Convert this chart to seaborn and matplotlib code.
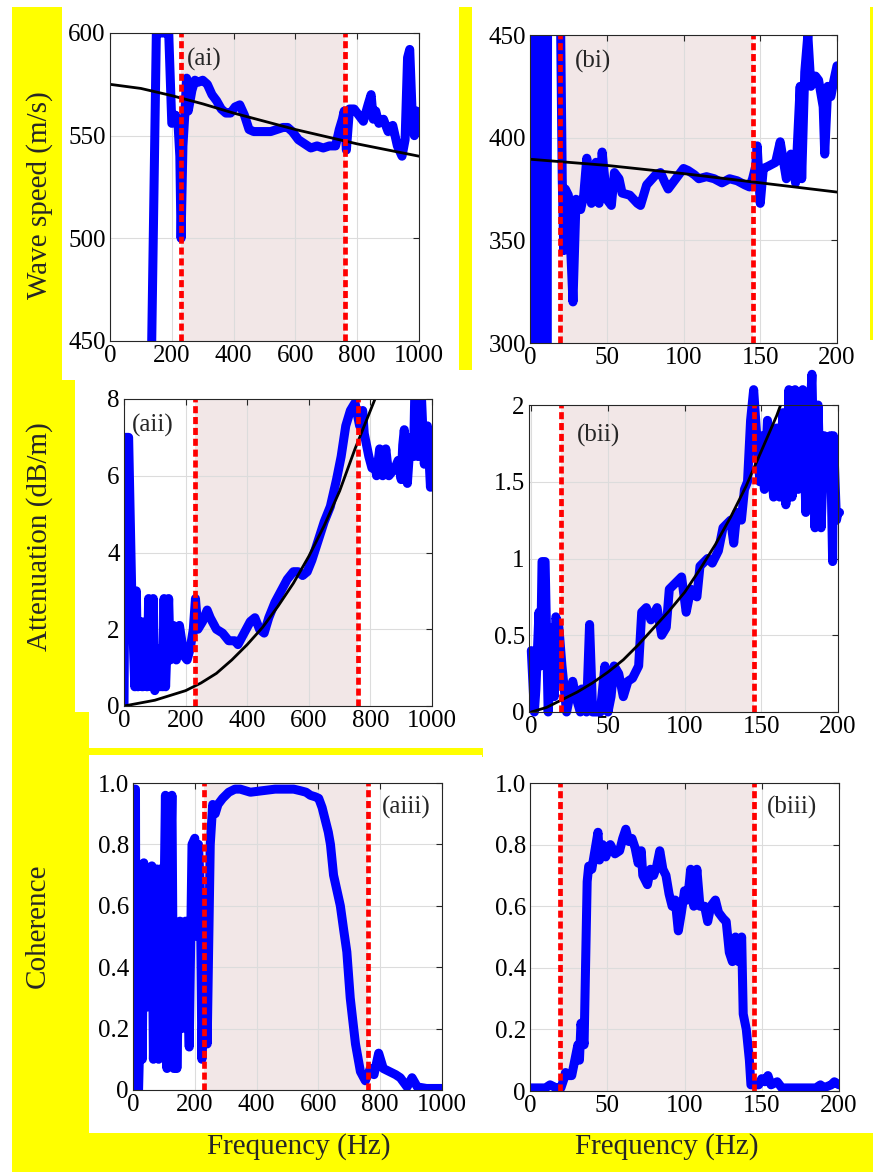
import numpy as np
import pandas as pd
import matplotlib
matplotlib.use("Agg")
import matplotlib.pyplot as plt
import seaborn as sns
from matplotlib.patches import Rectangle

# ---- data ----
# (ai) wave speed, band a
ai_f = [135, 150, 160, 175, 190, 200, 205, 212, 220, 226, 230, 236, 242, 248, 253, 258, 265, 275,
        285, 300, 315, 330, 345, 360, 375, 390, 405, 420, 435, 450, 465, 480, 500, 520, 540, 560,
        575, 590, 610, 630, 650, 670, 690, 710, 730, 742, 752, 758, 765, 775, 790, 805, 820, 835,
        845, 852, 860, 870, 885, 900, 915, 930, 945, 955, 963, 970, 978, 985, 992, 1000]
ai_v = [450, 600, 600, 600, 600, 556, 557, 560, 556, 540, 500, 545, 560, 578, 562, 566, 572, 577,
        576, 577, 575, 570, 567, 563, 561, 561, 564, 565, 560, 553, 552, 552, 552, 552, 553, 554,
        554, 552, 548, 546, 544, 545, 544, 545, 545, 553, 558, 562, 543, 563, 563, 560, 557, 565,
        570, 558, 562, 556, 558, 552, 555, 545, 540, 548, 588, 592, 560, 550, 562, 560]
ai_fit_f = [0, 100, 200, 300, 400, 500, 600, 700, 800, 900, 1000]
ai_fit_v = [575, 573, 569.5, 565.5, 561, 557, 553, 549.5, 546, 543, 540]

# (bi) wave speed, band b
bi_f = [0.5, 1, 1.5, 2, 2.5, 3, 3.5, 4, 4.5, 5, 5.5, 6, 6.5, 7, 7.5, 8, 8.5, 9, 9.5, 10, 10.5, 11,
        11.5, 19, 20, 21, 22, 23, 25, 28, 30, 33, 35, 37, 40, 43, 45, 47, 50, 53, 55, 58, 60, 65,
        70, 72, 76, 82, 85, 88, 90, 95, 100, 103, 107, 110, 115, 120, 125, 130, 135, 140, 143, 145,
        147, 148, 150, 152, 155, 160, 163, 167, 170, 173, 176, 177, 179, 181, 183, 186, 188, 191,
        192, 194, 196, 198, 200]
bi_v = [480, 270, 480, 270, 480, 270, 480, 270, 480, 270, 480, 270, 480, 270, 480, 270, 480, 270,
        480, 270, 480, 270, 480, 480, 450, 380, 345, 375, 372, 320, 370, 365, 372, 390, 368, 388,
        368, 393, 370, 367, 383, 380, 373, 372, 368, 367, 377, 382, 383, 378, 375, 380, 385, 384,
        382, 380, 381, 380, 378, 380, 379, 377, 376, 380, 386, 396, 368, 385, 386, 388, 398, 380,
        392, 378, 425, 380, 432, 450, 425, 430, 428, 415, 392, 425, 420, 428, 435]
bi_fit_f = [0, 50, 100, 150, 200]
bi_fit_v = [389.5, 386.5, 382.5, 378, 373.5]

# (aii) attenuation, band a
aii_f = [0, 5, 15, 25, 35, 40, 45, 55, 60, 70, 75, 80, 90, 95, 100, 105, 115, 120, 125, 130, 135,
         145, 150, 160, 170, 180, 195, 205, 215, 225, 232, 240, 255, 270, 280, 300, 320, 340, 360,
         370, 390, 410, 425, 440, 455, 470, 490, 510, 530, 550, 565, 580, 595, 610, 630, 650, 670,
         690, 705, 720, 735, 750, 765, 775, 780, 795, 805, 815, 820, 830, 840, 850, 860, 880, 890,
         900, 905, 910, 920, 930, 940, 945, 955, 965, 975, 985, 995, 1000]
aii_v = [0, 7.0, 7.0, 3.0, 0.5, 3.0, 0.5, 2.2, 0.5, 2.2, 0.5, 2.8, 0.5, 2.8, 0.4, 1.5, 0.5, 1.5,
         0.5, 2.8, 0.5, 2.8, 1.2, 2.1, 1.2, 2.1, 1.3, 1.2, 1.5, 2.0, 2.8, 2.0, 2.2, 2.5, 2.3, 2.0,
         1.9, 1.7, 1.7, 1.6, 1.9, 2.2, 2.3, 2.0, 1.9, 2.3, 2.7, 3.0, 3.3, 3.5, 3.5, 3.4, 3.5, 3.8,
         4.3, 4.8, 5.2, 5.9, 6.5, 7.3, 7.7, 7.9, 7.3, 7.7, 7.1, 6.5, 6.2, 6.3, 6.0, 6.7, 6.0, 6.7,
         6.0, 6.2, 6.4, 5.9, 6.8, 7.2, 5.8, 7.0, 6.5, 8.5, 6.5, 8.2, 6.3, 7.3, 5.7, 7.0]
aii_fit_f = [0, 100, 200, 250, 300, 350, 400, 450, 500, 550, 600, 650, 700, 750, 800, 850]
aii_fit_v = [0, 0.15, 0.4, 0.6, 0.85, 1.2, 1.6, 2.05, 2.6, 3.2, 3.9, 4.7, 5.6, 6.7, 7.7, 8.7]

# (bii) attenuation, band b
bii_f = [0, 2, 3, 5, 6, 7, 9, 11, 14, 15, 16, 18, 20, 23, 27, 29, 32, 33, 36, 38, 40, 45, 48, 50,
         52, 54, 57, 60, 63, 66, 70, 72, 75, 78, 82, 85, 88, 90, 95, 98, 101, 104, 108, 110, 115,
         118, 122, 125, 130, 132, 134, 137, 139, 141, 143, 145, 147, 149, 150, 152, 154, 156, 158,
         160, 162, 164, 166, 168, 170, 172, 174, 177, 179, 181, 183, 185, 187, 189, 191, 193, 195,
         196.5, 197, 199, 200, 201]
bii_v = [0.4, 0, 0.15, 0.65, 0.3, 0.98, 0.98, 0, 0.55, 0.1, 0.62, 0.55, 0.3, 0, 0.2, 0.1, 0, 0.15,
         0, 0.57, 0, 0, 0.3, 0, 0.1, 0.3, 0.25, 0.1, 0.2, 0.22, 0.3, 0.65, 0.68, 0.6, 0.68, 0.5,
         0.55, 0.8, 0.85, 0.88, 0.65, 0.8, 0.75, 0.95, 1.0, 0.97, 1.05, 1.2, 1.25, 1.1, 1.3, 1.25,
         1.45, 1.5, 1.9, 2.1, 1.8, 1.5, 1.8, 1.45, 1.9, 1.65, 1.4, 1.85, 1.4, 1.95, 1.35, 2.1, 1.4,
         2.1, 1.45, 2.1, 1.3, 1.8, 2.2, 1.2, 2.0, 1.2, 1.8, 1.6, 1.8, 0.98, 1.8, 1.25, 1.3, 1.3]
bii_fit_f = [0, 10, 20, 30, 40, 50, 60, 70, 80, 90, 100, 110, 120, 130, 140, 150, 160, 170]
bii_fit_v = [0, 0.03, 0.08, 0.13, 0.19, 0.26, 0.34, 0.44, 0.55, 0.66, 0.78, 0.93, 1.09, 1.27,
             1.47, 1.7, 1.93, 2.2]

# (aiii) coherence, band a
aiii_f = [2, 8, 10, 18, 25, 30, 35, 45, 61, 66, 77, 83, 88, 95, 105, 110, 126, 132, 137, 142, 152,
          158, 170, 182, 191, 200, 207, 212, 218, 223, 232, 240, 250, 258, 266, 275, 290, 310, 330,
          347, 380, 420, 460, 488, 520, 541, 560, 574, 590, 601, 612, 622, 632, 639, 649, 660, 671,
          682, 692, 703, 712, 720, 736, 752, 768, 780, 795, 810, 830, 850, 865, 887, 903, 920, 950,
          1000]
aiii_v = [0.98, 0.98, 0.0, 0.0, 0.3, 0.1, 0.74, 0.27, 0.73, 0.1, 0.72, 0.1, 0.72, 0.2, 0.96, 0.07,
          0.96, 0.07, 0.45, 0.07, 0.55, 0.2, 0.55, 0.14, 0.8, 0.82, 0.5, 0.8, 0.65, 0.1, 0.63, 0.15,
          0.8, 0.93, 0.9, 0.93, 0.95, 0.97, 0.98, 0.98, 0.97, 0.975, 0.98, 0.98, 0.98, 0.975,
          0.97, 0.96, 0.955, 0.95, 0.92, 0.88, 0.84, 0.8, 0.7, 0.65, 0.6, 0.52, 0.45, 0.3, 0.22,
          0.15, 0.06, 0.03, 0.07, 0.05, 0.12, 0.07, 0.06, 0.05, 0.04, 0.01, 0.04, 0.01, 0.005, 0.005]

# (biii) coherence, band b
biii_f = [0, 5, 10, 13, 17, 20, 22, 23, 25, 27, 29, 31, 32, 33, 35, 37, 38, 40, 42, 44, 45, 47, 49,
          52, 55, 58, 60, 62, 64, 66, 68, 70, 72, 73, 76, 78, 80, 82, 84, 86, 88, 90, 92, 94, 96,
          98, 100, 102, 104, 106, 108, 110, 113, 115, 117, 120, 122, 125, 127, 129, 131, 133, 135,
          137, 138, 140, 142, 143, 145, 148, 150, 152, 154, 156, 160, 163, 170, 175, 180, 185, 188,
          190, 195, 197, 200]
biii_v = [0.01, 0.01, 0.01, 0.02, 0.01, 0.01, 0.04, 0.06, 0.05, 0.05, 0.1, 0.15, 0.1, 0.22, 0.15,
          0.68, 0.73, 0.72, 0.78, 0.84, 0.75, 0.8, 0.76, 0.8, 0.77, 0.78, 0.82, 0.85, 0.81, 0.82,
          0.79, 0.74, 0.78, 0.7, 0.67, 0.72, 0.7, 0.73, 0.78, 0.72, 0.7, 0.64, 0.6, 0.62, 0.52,
          0.58, 0.65, 0.62, 0.72, 0.6, 0.72, 0.6, 0.6, 0.55, 0.6, 0.62, 0.58, 0.56, 0.55, 0.45,
          0.42, 0.5, 0.42, 0.5, 0.25, 0.2, 0.1, 0.02, 0.02, 0.02, 0.04, 0.03, 0.05, 0.02, 0.03,
          0.01, 0.01, 0.01, 0.01, 0.01, 0.02, 0.01, 0.02, 0.03, 0.02]

band_a = [231, 759]
band_b = [19.6, 145]

x_ticks_a = [0, 200, 400, 600, 800, 1000]
x_ticks_b = [0, 50, 100, 150, 200]

sns.set_theme(style="whitegrid")
plt.rcParams["font.family"] = ["Liberation Serif", "DejaVu Serif"]
plt.rcParams["axes.edgecolor"] = "#262626"
plt.rcParams["axes.linewidth"] = 0.8
plt.rcParams["grid.color"] = "#dcdcdc"
plt.rcParams["grid.linewidth"] = 0.8

W, H = 873, 1172
fig = plt.figure(figsize=(W / 100, H / 100), dpi=100)
fig.patch.set_facecolor("white")

yellow = "#ffff00"
# yellow highlight blocks around the figure (kept behind the axes)
for (x0, y0, x1, y1) in [(12, 7, 62, 380), (12, 380, 75, 750), (12, 712, 89, 1172),
                         (12, 1133, 873, 1172), (459, 7, 472, 370), (12, 748, 482, 755),
                         (870, 7, 873, 340), (470, 748, 483, 757)]:
    fig.patches.append(Rectangle((x0 / W, 1 - y1 / H), (x1 - x0) / W, (y1 - y0) / H,
                                 transform=fig.transFigure, facecolor=yellow,
                                 edgecolor="none", zorder=-2))
# white paper behind the lower-left panel
fig.patches.append(Rectangle((89 / W, 1 - 1133 / H), (482 - 89) / W, (1133 - 755) / H,
                             transform=fig.transFigure, facecolor="white",
                             edgecolor="none", zorder=-1))


def px_axes(l, t, r, b):
    return fig.add_axes([l / W, 1 - b / H, (r - l) / W, (b - t) / H])


def panel(ax, f, v, fit_f, fit_v, band, xlim, ylim, xticks, yticks, ylabels, tag, tagpos,
          blue_clip=True):
    ax.set_facecolor("none")
    ax.axvspan(band[0], band[1], color="#f2e7e7", zorder=0.3, lw=0)
    sns.lineplot(x=f, y=v, ax=ax, color="#0000ff", lw=6.5, estimator=None, sort=False,
                 zorder=3, clip_on=blue_clip)
    if fit_f is not None:
        sns.lineplot(x=fit_f, y=fit_v, ax=ax, color="black", lw=2, estimator=None,
                     sort=False, zorder=4)
    for b in band:
        ax.axvline(b, color="#ff0000", lw=3.4, ls=(0, (1.5, 0.8)), zorder=5)
    ax.set_xlim(xlim)
    ax.set_ylim(ylim)
    ax.set_xticks(xticks)
    ax.set_xticklabels([str(t) for t in xticks])
    ax.set_yticks(yticks)
    ax.set_yticklabels(ylabels)
    ax.tick_params(direction="in", length=4, width=0.8, top=True, right=True,
                   labelsize=18, pad=3, colors="#262626", labelcolor="black")
    ax.grid(True, zorder=0)
    ax.set_axisbelow(True)
    for s in ax.spines.values():
        s.set_visible(True)
        s.set_zorder(6)
    ax.text(tagpos[0], tagpos[1], tag, transform=ax.transAxes, fontsize=18, va="center",
            ha="left", zorder=7)
    ax.set_xlabel("")
    ax.set_ylabel("")


ax1 = px_axes(110, 33, 419, 341)
panel(ax1, ai_f, ai_v, ai_fit_f, ai_fit_v, band_a, (0, 1000), (450, 600), x_ticks_a,
      [450, 500, 550, 600], ["450", "500", "550", "600"], "(ai)", (0.25, 0.915))

ax2 = px_axes(530, 35, 837, 343)
panel(ax2, bi_f, bi_v, bi_fit_f, bi_fit_v, band_b, (0, 200), (300, 450), x_ticks_b,
      [300, 350, 400, 450], ["300", "350", "400", "450"], "(bi)", (0.145, 0.915))

ax3 = px_axes(124, 399, 432, 706)
panel(ax3, aii_f, aii_v, aii_fit_f, aii_fit_v, band_a, (0, 1000), (0, 8), x_ticks_a,
      [0, 2, 4, 6, 8], ["0", "2", "4", "6", "8"], "(aii)", (0.025, 0.915))

ax4 = px_axes(529, 405, 838, 712)
panel(ax4, bii_f, bii_v, bii_fit_f, bii_fit_v, band_b, (-1.5, 200), (0, 2), x_ticks_b,
      [0, 0.5, 1, 1.5, 2], ["0", "0.5", "1", "1.5", "2"], "(bii)", (0.155, 0.9),
      blue_clip=False)

ax5 = px_axes(133, 783, 442, 1090)
panel(ax5, aiii_f, aiii_v, None, None, band_a, (0, 1000), (0, 1), x_ticks_a,
      [0, 0.2, 0.4, 0.6, 0.8, 1.0], ["0", "0.2", "0.4", "0.6", "0.8", "1.0"], "(aiii)",
      (0.805, 0.92))

ax6 = px_axes(530, 783, 839, 1091)
panel(ax6, biii_f, biii_v, None, None, band_b, (0, 200), (0, 1), x_ticks_b,
      [0, 0.2, 0.4, 0.6, 0.8, 1.0], ["0", "0.2", "0.4", "0.6", "0.8", "1.0"], "(biii)",
      (0.765, 0.92))

# axis titles placed where the reference has them
fig.text(40 / W, 1 - 195 / H, "Wave speed (m/s)", rotation=90, ha="center", va="center",
         fontsize=21)
fig.text(40 / W, 1 - 537 / H, "Attenuation (dB/m)", rotation=90, ha="center", va="center",
         fontsize=21)
fig.text(38 / W, 1 - 926 / H, "Coherence", rotation=90, ha="center", va="center",
         fontsize=21)
fig.text(299 / W, 1 - 1147 / H, "Frequency (Hz)", ha="center", va="center", fontsize=21)
fig.text(667 / W, 1 - 1147 / H, "Frequency (Hz)", ha="center", va="center", fontsize=21)

fig.savefig("out.png", dpi=100, facecolor=fig.get_facecolor())
